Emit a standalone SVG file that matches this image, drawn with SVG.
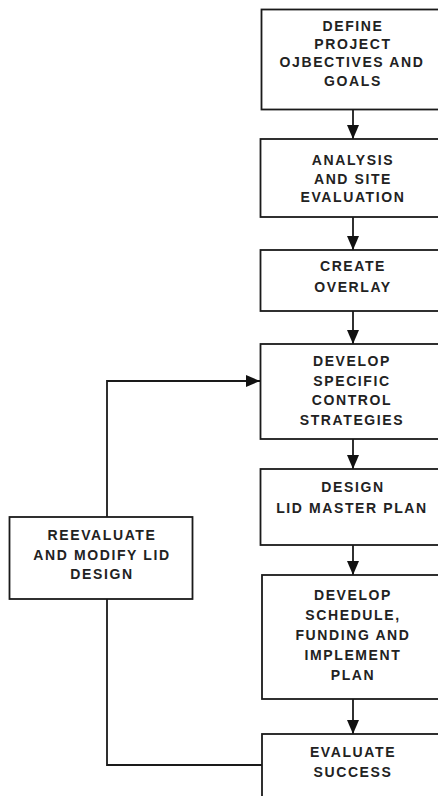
<svg xmlns="http://www.w3.org/2000/svg" width="438" height="796" viewBox="0 0 438 796">
<style>
.box{fill:#fff;stroke:#1a1a1a;stroke-width:1.8}
.t{font-family:"Liberation Sans",Arial,sans-serif;font-weight:bold;font-size:14px;letter-spacing:1.6px;fill:#222;text-anchor:middle}
.c{fill:none;stroke:#1a1a1a;stroke-width:1.8}
</style>
<defs>
<marker id="ah" markerWidth="14" markerHeight="12" refX="14" refY="6" orient="auto" markerUnits="userSpaceOnUse">
<path d="M0,0 L14,6 L0,12 Z" fill="#111"/>
</marker>
</defs>
<rect width="438" height="796" fill="#fff"/>
<g id="connectors">
<line class="c" x1="353" y1="109" x2="353" y2="139" marker-end="url(#ah)"/>
<line class="c" x1="353" y1="217" x2="353" y2="250" marker-end="url(#ah)"/>
<line class="c" x1="353" y1="311" x2="353" y2="344" marker-end="url(#ah)"/>
<line class="c" x1="353" y1="439" x2="353" y2="469" marker-end="url(#ah)"/>
<line class="c" x1="353" y1="545" x2="353" y2="575" marker-end="url(#ah)"/>
<line class="c" x1="353" y1="699" x2="353" y2="734" marker-end="url(#ah)"/>
<polyline class="c" points="262,765 107,765 107,599"/>
<polyline class="c" points="107,517 107,381 260,381" marker-end="url(#ah)"/>
</g>
<g id="n1">
<rect class="box" x="261.5" y="9.5" width="182" height="100"/>
<text class="t" x="353" y="31">DEFINE</text>
<text class="t" x="353" y="49">PROJECT</text>
<text class="t" x="352" y="67">OJBECTIVES AND</text>
<text class="t" x="353" y="86">GOALS</text>
</g>
<g id="n2">
<rect class="box" x="260.5" y="139" width="183" height="78"/>
<text class="t" x="353" y="165">ANALYSIS</text>
<text class="t" x="353" y="183.5">AND SITE</text>
<text class="t" x="353" y="202">EVALUATION</text>
</g>
<g id="n3">
<rect class="box" x="260.5" y="250" width="183" height="61"/>
<text class="t" x="353" y="271">CREATE</text>
<text class="t" x="353" y="291.5">OVERLAY</text>
</g>
<g id="n4">
<rect class="box" x="260.5" y="344" width="183" height="95"/>
<text class="t" x="352" y="366">DEVELOP</text>
<text class="t" x="352" y="385.5">SPECIFIC</text>
<text class="t" x="352" y="405">CONTROL</text>
<text class="t" x="352" y="424.5">STRATEGIES</text>
</g>
<g id="n5">
<rect class="box" x="260.5" y="469" width="183" height="76"/>
<text class="t" x="353" y="492">DESIGN</text>
<text class="t" x="352" y="512.5">LID MASTER PLAN</text>
</g>
<g id="n6">
<rect class="box" x="262" y="575" width="182" height="124"/>
<text class="t" x="353" y="599.5">DEVELOP</text>
<text class="t" x="353" y="619.5">SCHEDULE,</text>
<text class="t" x="353" y="639.5">FUNDING AND</text>
<text class="t" x="353" y="659.5">IMPLEMENT</text>
<text class="t" x="353" y="679.5">PLAN</text>
</g>
<g id="n7">
<rect class="box" x="262" y="734" width="182" height="80"/>
<text class="t" x="353" y="757">EVALUATE</text>
<text class="t" x="353" y="777">SUCCESS</text>
</g>
<g id="n8">
<rect class="box" x="9.5" y="517" width="183" height="82"/>
<text class="t" x="102" y="540">REEVALUATE</text>
<text class="t" x="102" y="559.5">AND MODIFY LID</text>
<text class="t" x="102" y="578.5">DESIGN</text>
</g>
</svg>
